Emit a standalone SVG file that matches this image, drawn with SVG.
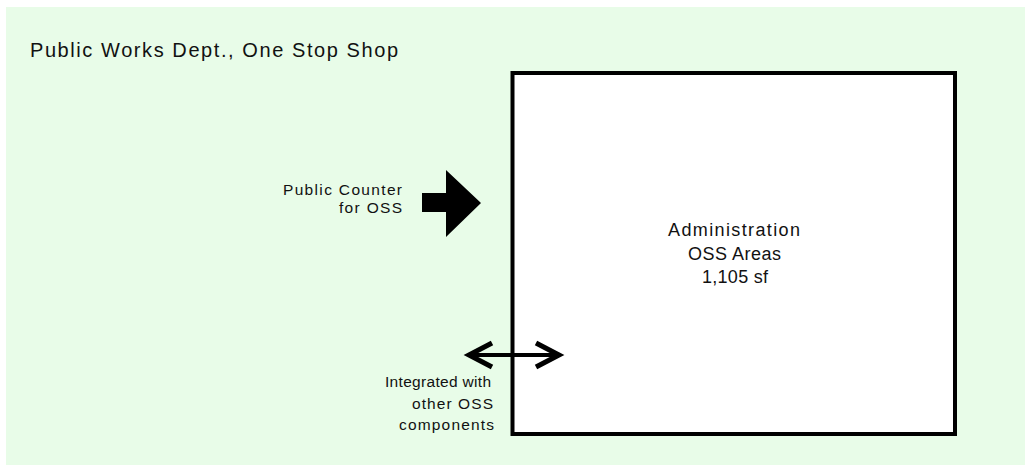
<svg xmlns="http://www.w3.org/2000/svg" width="1025" height="466" viewBox="0 0 1025 466">
  <style>
    .lbl { font-family: "Liberation Sans", Arial, sans-serif; fill: #111; }
    .title { font-size: 20px; }
    .side { font-size: 15.5px; text-anchor: end; }
    .center { font-size: 18px; text-anchor: middle; }
    .room { fill: #ffffff; stroke: #000; stroke-width: 4; }
    .link { fill: none; stroke: #000; stroke-width: 4; }
    .head { fill: none; stroke: #000; stroke-width: 5; stroke-linecap: butt; stroke-linejoin: miter; }
  </style>

  <!-- page background -->
  <rect x="0" y="0" width="1025" height="466" fill="#ffffff"/>
  <rect x="6" y="7" width="1019" height="458" fill="#e8fce8"/>

  <text id="title" class="lbl title" x="30" y="57" textLength="368" lengthAdjust="spacing">Public Works Dept., One Stop Shop</text>

  <!-- administration area -->
  <g id="admin-oss">
    <rect class="room" x="512.5" y="73" width="442.5" height="361"/>
    <text class="lbl center" x="734" y="236" textLength="132" lengthAdjust="spacing">Administration</text>
    <text class="lbl center" x="734.5" y="260" textLength="93" lengthAdjust="spacing">OSS Areas</text>
    <text class="lbl center" x="735" y="283" textLength="66" lengthAdjust="spacing">1,105 sf</text>
  </g>

  <!-- public counter entry -->
  <g id="public-counter">
    <text class="lbl side" x="402" y="195" textLength="119" lengthAdjust="spacing">Public Counter</text>
    <text class="lbl side" x="402" y="213" textLength="63" lengthAdjust="spacing">for OSS</text>
  </g>

  <!-- integration note -->
  <g id="integration">
    <text class="lbl side" x="491" y="387" textLength="106" lengthAdjust="spacing">Integrated with</text>
    <text class="lbl side" x="493" y="409" textLength="81" lengthAdjust="spacing">other OSS</text>
    <text class="lbl side" x="494" y="430" textLength="95" lengthAdjust="spacing">components</text>
  </g>

  <!-- connectors -->
  <g id="connectors">
    <polygon fill="#000" points="422,193 446,193 446,170 481,203 446,237 446,212 422,212"/>
    <line class="link" x1="470" y1="355" x2="558" y2="355"/>
    <polyline class="head" points="492,343 469,355 492,367"/>
    <polyline class="head" points="536,343 559,355 536,367"/>
  </g>
</svg>
